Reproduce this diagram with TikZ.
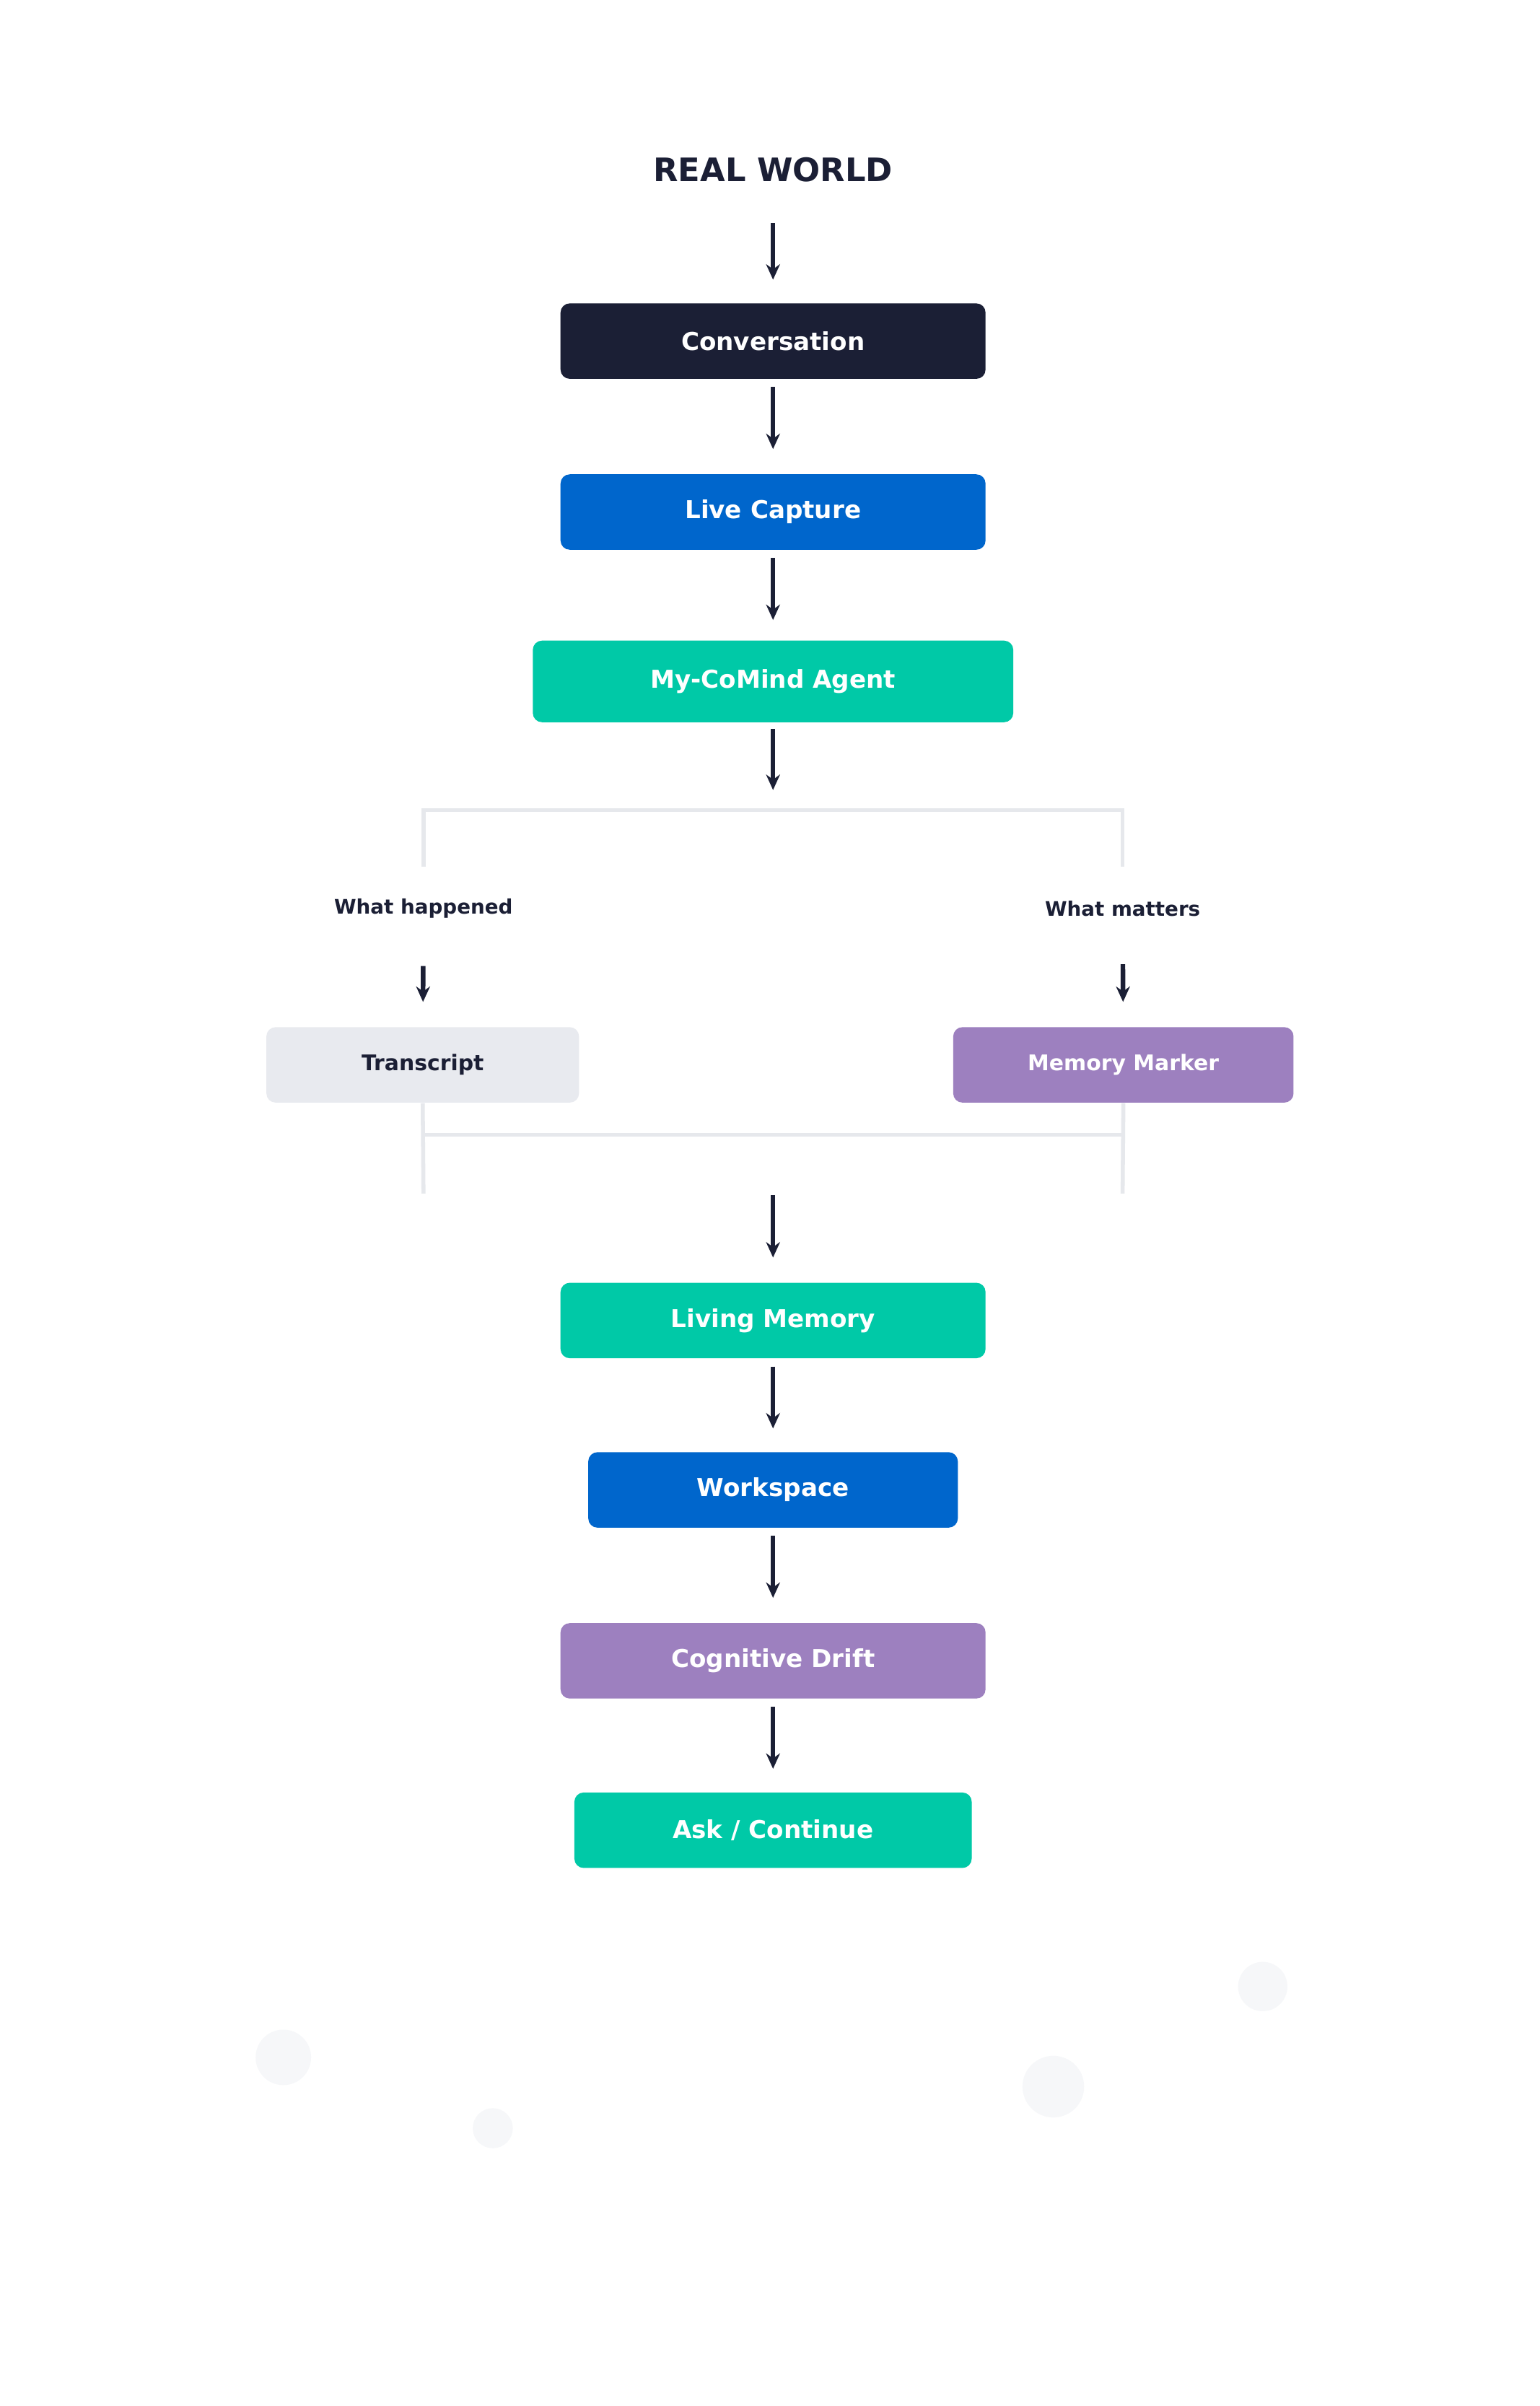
\documentclass[tikz,border=0pt]{standalone}
\usepackage{fontspec}
\setmainfont{DejaVu Sans}
\usetikzlibrary{arrows.meta}
\definecolor{dark}{HTML}{1B1F35}
\definecolor{blu}{HTML}{0066CC}
\definecolor{teal}{HTML}{00C9A7}
\definecolor{purp}{HTML}{9D80BF}
\definecolor{lgray}{HTML}{E8EAEF}
\definecolor{brk}{HTML}{E6E8EC}
\definecolor{dot}{HTML}{F6F7F9}
\begin{document}
\begin{tikzpicture}[x=0.5pt,y=-0.5pt,
 box/.style={rounded corners=3pt,inner sep=0pt,minimum height=24.5pt,text=white,font=\fontsize{8}{10}\selectfont\bfseries},
 arr/.style={draw=dark,line width=1.5pt,-{Stealth[length=5pt,width=4.5pt]}},
 brk/.style={draw=brk,line width=1.3pt},
 lab/.style={text=dark,font=\fontsize{6.5}{8}\selectfont\bfseries}]
\path[use as bounding box,fill=white] (0,0) rectangle (1000,1562.4);
\fill[dot] (184,1336) circle (18) (320,1382) circle (13) (684,1355) circle (20) (820,1290) circle (16);
\node[text=dark,font=\fontsize{10.5}{12}\selectfont\bfseries] (rw) at (502,110) {REAL WORLD};
\node[box,fill=dark,minimum width=138pt] (conv) at (502,221.5) {Conversation};
\node[box,fill=blu,minimum width=138pt] (live) at (502,332.5) {Live Capture};
\node[box,fill=teal,minimum width=156pt,minimum height=26.5pt] (agent) at (502,442.5) {My-CoMind Agent};
\node[lab] (wh) at (275,590) {What happened};
\node[lab] (wm) at (729,590) {What matters};
\node[box,fill=lgray,text=dark,minimum width=101.5pt,font=\fontsize{7}{9}\selectfont\bfseries] (tr) at (274.5,691.5) {Transcript};
\node[box,fill=purp,minimum width=110.5pt,font=\fontsize{7}{9}\selectfont\bfseries] (mm) at (729.5,691.5) {Memory Marker};
\node[box,fill=teal,minimum width=138pt] (lm) at (502,857.5) {Living Memory};
\node[box,fill=blu,minimum width=120pt] (ws) at (502,967.5) {Workspace};
\node[box,fill=purp,minimum width=138pt] (cd) at (502,1078.5) {Cognitive Drift};
\node[box,fill=teal,minimum width=129pt] (ac) at (502,1188.5) {Ask / Continue};
\coordinate (ta) at (502,513);
\coordinate (bl1) at (275,563); \coordinate (bl2) at (275,526);
\coordinate (br1) at (729,526); \coordinate (br2) at (729,563);
\draw[brk] (bl1) -- (bl2) -- (br1) -- (br2);
\coordinate (ll1) at (275,775); \coordinate (rr1) at (729,775);
\draw[brk] (tr.south) -- (ll1);
\draw[brk] (mm.south) -- (rr1);
\coordinate (hl) at (275,737); \coordinate (hr) at (729,737);
\draw[brk] (hl) -- (hr);
\coordinate (la) at (502,776);
\draw[arr,shorten <=10pt,shorten >=7.5pt] (rw) -- (conv);
\draw[arr,shorten <=2.5pt,shorten >=8pt] (conv) -- (live);
\draw[arr,shorten <=2.5pt,shorten >=6.5pt] (live) -- (agent);
\draw[arr,shorten <=2pt] (agent) -- (ta);
\draw[arr,shorten <=12pt,shorten >=8pt] (wh) -- (tr);
\draw[arr,shorten <=12pt,shorten >=8pt] (wm) -- (mm);
\draw[arr,shorten >=8pt] (la) -- (lm);
\draw[arr,shorten <=2.5pt,shorten >=7.5pt] (lm) -- (ws);
\draw[arr,shorten <=2.5pt,shorten >=8pt] (ws) -- (cd);
\draw[arr,shorten <=2.5pt,shorten >=7.5pt] (cd) -- (ac);
\end{tikzpicture}
\end{document}
